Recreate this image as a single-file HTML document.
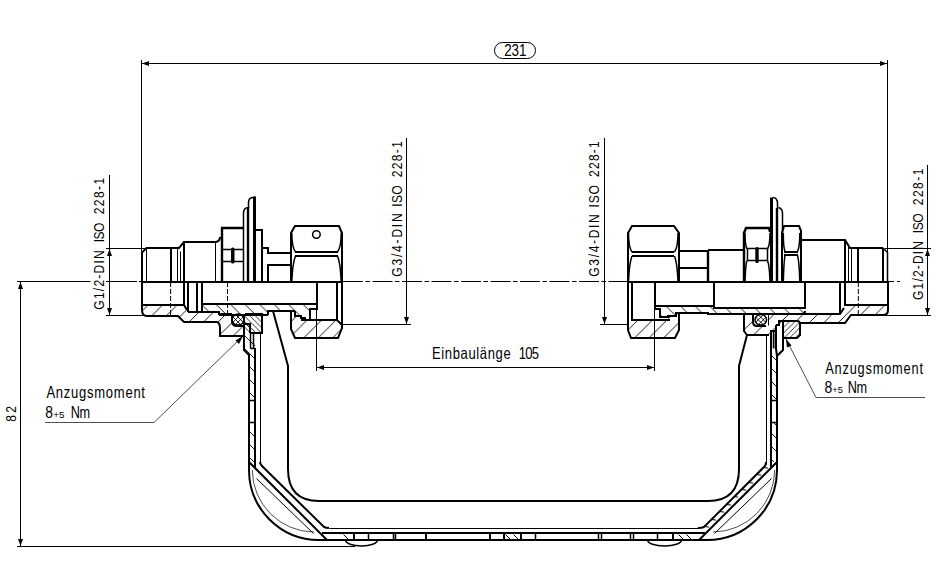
<!DOCTYPE html>
<html><head><meta charset="utf-8">
<style>
html,body{margin:0;padding:0;background:#fff;width:940px;height:580px;overflow:hidden}
svg{display:block}
text{font-family:"Liberation Sans",sans-serif;fill:#000}
.t{stroke:#000;stroke-width:1;fill:none}
.k{stroke:#000;stroke-width:2;fill:none}
.m{stroke:#000;stroke-width:1.5;fill:none}
.g{stroke:#222;stroke-width:0.8;fill:none}
.hs{stroke:#000;stroke-width:0.9;fill:none}
</style></head><body>
<svg width="940" height="580" viewBox="0 0 940 580" xmlns="http://www.w3.org/2000/svg">
<defs>
<pattern id="hf" patternUnits="userSpaceOnUse" width="14.5" height="14.5" patternTransform="translate(1,0)"><path d="M-1,15.5 L15.5,-1 M-1,1 L1,-1 M13.5,15.5 L15.5,13.5" stroke="#000" stroke-width="0.9"/></pattern>
<pattern id="hb" patternUnits="userSpaceOnUse" width="14.5" height="14.5" patternTransform="translate(2,0)"><path d="M-1,-1 L15.5,15.5 M13.5,-1 L15.5,1 M-1,13.5 L1,15.5" stroke="#000" stroke-width="0.9"/></pattern>
<pattern id="hb12" patternUnits="userSpaceOnUse" width="13" height="13"><path d="M-1,-1 L14,14 M12,-1 L14,1 M-1,12 L1,14" stroke="#000" stroke-width="0.9"/></pattern>
<pattern id="hf12" patternUnits="userSpaceOnUse" width="11.7" height="11.7"><path d="M-1,12.7 L12.7,-1 M-1,1 L1,-1 M10.7,12.7 L12.7,10.7" stroke="#000" stroke-width="0.9"/></pattern>
<pattern id="hb5" patternUnits="userSpaceOnUse" width="5.5" height="5.5"><path d="M-1,-1 L6.5,6.5 M4.5,-1 L6.5,1 M-1,4.5 L1,6.5" stroke="#000" stroke-width="0.8"/></pattern>
<pattern id="hf5" patternUnits="userSpaceOnUse" width="5.5" height="5.5"><path d="M-1,6.5 L6.5,-1 M-1,1 L1,-1 M4.5,6.5 L6.5,4.5" stroke="#000" stroke-width="0.8"/></pattern>
<pattern id="hx" patternUnits="userSpaceOnUse" width="5" height="5" patternTransform="translate(0.5,0.5)"><path d="M-1,-1 L6,6 M-1,6 L6,-1" stroke="#000" stroke-width="0.7"/></pattern>
<clipPath id="or1"><ellipse cx="238.1" cy="319.6" rx="6" ry="5.5"/></clipPath>
<clipPath id="or2"><ellipse cx="760.8" cy="319.8" rx="5.8" ry="5.3"/></clipPath>
<pattern id="hb7" patternUnits="userSpaceOnUse" width="7" height="7"><path d="M-1,-1 L8,8 M6,-1 L8,1 M-1,6 L1,8" stroke="#000" stroke-width="0.9"/></pattern>
<pattern id="hfL" patternUnits="userSpaceOnUse" width="14.5" height="14.5" patternTransform="translate(3.6,0)"><path d="M-1,15.5 L15.5,-1 M-1,1 L1,-1 M13.5,15.5 L15.5,13.5" stroke="#000" stroke-width="0.9"/></pattern>
<pattern id="hbL" patternUnits="userSpaceOnUse" width="14.5" height="14.5" patternTransform="translate(-1.3,0)"><path d="M-1,-1 L15.5,15.5 M13.5,-1 L15.5,1 M-1,13.5 L1,15.5" stroke="#000" stroke-width="0.9"/></pattern>
<pattern id="hbR" patternUnits="userSpaceOnUse" width="14.5" height="14.5" patternTransform="translate(-2.5,0)"><path d="M-1,-1 L15.5,15.5 M13.5,-1 L15.5,1 M-1,13.5 L1,15.5" stroke="#000" stroke-width="0.9"/></pattern>
</defs>

<!-- ============ DIMENSIONS ============ -->
<g id="dims">
  <!-- 231 -->
  <path class="t" d="M141.5,60 V252 M887.5,60 V252 M142,63.5 H887"/>
  <path d="M142,63.5 L149,61 L149,66 Z M887,63.5 L880,61 L880,66 Z" fill="#000"/>
  <rect class="t" x="494.5" y="42.5" width="41" height="16" rx="8" ry="8"/>

  <!-- centre line -->
  <path class="t" d="M17,281.5 H90.5 M106,281.5 H137 M139,281.5 H142"/>
  <path class="t" d="M343,281.5 H627" stroke-dasharray="20 2.5 4.5 2.5" stroke-dashoffset="0"/>
  <path class="t" d="M888,281.5 H900" stroke-dasharray="6 3"/>

  <!-- 82 -->
  <path class="t" d="M20.5,282 V546 M17,546.5 H355"/>
  <path d="M20.5,282 L18,289 L23,289 Z M20.5,546 L18,539 L23,539 Z" fill="#000"/>

  <!-- G1/2 left -->
  <path class="t" d="M109.5,175 V315 M106,248.5 H146 M106,315.5 H147"/>
  <path d="M109.5,249 L107,256 L112,256 Z M109.5,315 L107,308 L112,308 Z" fill="#000"/>

  <!-- G1/2 right -->
  <path class="t" d="M927.5,165 V315 M885,248.5 H931 M885,315.5 H931"/>
  <path d="M927.5,249 L925,256 L930,256 Z M927.5,315 L925,308 L930,308 Z" fill="#000"/>

  <!-- G3/4 left -->
  <path class="t" d="M406.5,138 V324 M342,324.5 H411"/>
  <path d="M406.5,324 L404,317 L409,317 Z" fill="#000"/>

  <!-- G3/4 right -->
  <path class="t" d="M604.5,138 V324 M600,324.5 H628"/>
  <path d="M604.5,324 L602,317 L607,317 Z" fill="#000"/>

  <!-- Einbaulaenge -->
  <path class="t" d="M316.5,282 V371 M654.5,282 V371 M317,367.5 H654"/>
  <path d="M317,367.5 L324,365 L324,370 Z M654,367.5 L647,365 L647,370 Z" fill="#000"/>

  <!-- Anzugsmoment left -->
  <path class="g" d="M45,422.5 H154 L243,336"/>
  <path d="M243,336 L235.5,340.5 L239,344 Z" fill="#000"/>

  <!-- Anzugsmoment right -->
  <path class="g" d="M925,397.5 H816 L786,339"/>
  <path d="M786,339 L787,347.5 L791.5,345.5 Z" fill="#000"/>
</g>


<!-- ============ LEFT FITTING ============ -->
<g id="leftfit">
  <!-- hatched sections -->
  <path fill="url(#hfL)" d="M142,305 V309.5 L147,315.5 H178.5 L183.5,322.5 H217 Q220.5,323 220.5,327.5 V336 H243.5 V325.6 H237 Q231.7,325 231.7,321 V314 H219 V312.7 H187.3 L186.9,310 L183.9,305 Z"/>
  <path fill="url(#hbL)" d="M202,304 H317 V308.6 H310 V319.8 H305.3 V318.4 H300.6 V315.6 H295 V310.9 H268 V314.8 H219 V312.7 H202 Z"/>
  <path fill="url(#hb5)" d="M245,314.4 H262.4 V332.8 H245 Z"/>
  <path fill="url(#hfL)" d="M291,310.9 V329.3 L295.4,338.2 H338 L341.8,327.6 V325 L337,320.3 H300.6 V315.6 H295 V310.9 Z"/>
  <path fill="url(#hb12)" d="M244.5,324.5 H250 V333 H255 V400.3 H249 V355.2 L244.5,349.7 Z M249,422.5 H255 V462 L249,462 Z"/>
  <path class="m" d="M249.5,400.5 H255.5 M249.5,422.5 H255.5"/>

  <!-- upper half (view) -->
  <path class="k" d="M142,282 V252.5 L146.5,248 H179 L184,242 H216 Q220,241,220,237"/>
  <path class="t" d="M146.5,248.5 V282.5 M177.5,248.5 V282.5 M180.5,251.5 V282.5 M215.5,241.5 V282.5"/>
  <path class="k" d="M171,248 V282 M184,242 V282"/>
  <path class="k" style="stroke-width:2.4px" d="M222,282 V228 H244"/>
  <path class="m" d="M221.5,249.5 H243.5 M221.5,261.5 H243.5"/>
  <rect x="231" y="247.5" width="3.5" height="16" rx="1.5" fill="#000"/>
  <path class="m" d="M243.5,282.5 V213.5 Q243.5,207.5,248.5,207.5"/>
  <path class="k" style="stroke-width:2.4px" d="M248,207 V282"/>
  <path class="m" d="M248.5,208.5 V202.5 Q248.5,197.5,253.5,197.5 H255.5"/>
  <path class="k" style="stroke-width:3px" d="M254.5,196.5 V282.5"/>
  <path class="k" d="M256,230 H262 V248 H268 V253 H291 M268,282 V265 H291 M262,248 V282"/>
  <!-- nut -->
  <path class="k" d="M291,282 V233 L295,226 H339 L342,233 V282"/>
  <circle cx="316.4" cy="234.5" r="3.8" class="m"/>
  <path class="k" d="M295,252 H338 M295,256 H338"/>
  <path class="m" d="M291.8,233 Q291.8,247 295.5,252 M295.5,256 Q292.5,263 291.8,282 M341.2,233 Q341.2,247 337.5,252 M337.5,256 Q340.5,263 341.2,282"/>
  <!-- axis -->
  <path class="k" d="M142,282 H342"/>

  <!-- lower half (section) -->
  <path class="k" d="M142,282 V310 Q142,316 147,316 H178 L184,322 H217 Q220,323,220,328 V336 H244"/>
  <path class="k" d="M142,305 H184 L187,310 M184,282 V305 M188,282 V312 M197,282 V312 M202,282 V312 M188,312 H219 V314 H232"/>
  <path class="t" stroke-dasharray="5 2" d="M170.6,282 V315 M227.5,282 V313"/>
  <path class="k" d="M202,304 H317 M317,282 V309 H310 V320 H305 V318 H301 V316 H295 V311"/>
  <path class="k" d="M268,315 V311 H295 M219,315 H268"/>
  <path class="k" d="M232,314 V321 Q232,326,237,326 H244"/>
  <path class="t" style="stroke-width:0.9px" clip-path="url(#or1)" d="M227.6,311.6 l16,16 M227.6,327.6 l16,-16 M232.6,311.6 l16,16 M232.6,327.6 l16,-16"/><ellipse cx="238.1" cy="319.6" rx="6" ry="5.5" class="m"/>
  <path class="k" d="M245,314 H262 V333 H250"/>
  <path class="k" d="M244,314 V350 L249,355 V470 M244,324 H250 V333"/>
  <path class="m" d="M250.5,333.5 V348.5 M253.5,333.5 V348.5 M250.5,348.5 H255.5"/>
  <path class="k" d="M255,348 V467"/>
  <path class="t" d="M260.5,333.5 V464.5"/>
  <!-- nut lower -->
  <path class="k" d="M291,311 V329 L295,338 H338 L342,328 V282 M337,282 V320 L342,325 M337,320 H301"/>
  <!-- cavity -->
  <path class="k" d="M270,311 H273 L288,366 V469 Q288,501,319,501 H708 Q739,501,739,469 V366 L747,335"/>
</g>


<!-- ============ RIGHT FITTING ============ -->
<g id="rightfit">
  <!-- hatched sections -->
  <path fill="url(#hf)" d="M627.5,320.5 V329.5 L631.3,338.4 H674.7 L679.2,329.5 V313.1 H675.9 V315.7 H668.5 V320.5 Z"/>
  <path fill="url(#hbR)" d="M655,306.2 H713.8 V307.5 H804.7 V311 Q804.7,313.5 802,313.5 H707.8 V313.1 H675.9 V315.7 H668.5 V317.2 H660.5 V308.6 H655 Z"/>
  <path fill="url(#hf)" d="M744,314 V331 L746.6,335.3 H769 V325.7 H752.6 V314 Z M769,314 H840 L844.3,308 V305.2 H887.8 V310.9 L883.6,315 H851 L844.9,323.4 H799.5 V320.9 H781.4 V325.2 H775.8 V331 L769,335.3 Z"/>
  <path fill="url(#hf5)" d="M782.7,320.6 H797 Q800,320.9 800,324.5 V335.3 L797,337.8 H782.7 Z"/>
  <path fill="url(#hb12)" d="M771,349 H775.8 L777,355 V400.3 H771 Z M771,422.5 H777 V462 H771 Z"/>
  
  <path class="m" d="M771.5,400.5 H777.5 M771.5,422.5 H777.5"/>

  <!-- upper half view -->
  <path class="k" d="M628,282 V233 L632,226 H674 L679,233 V282"/>
  <path class="k" d="M632,252 H674 M632,256 H674"/>
  <path class="m" d="M628.5,233 Q628.5,247 632,252 M632,256 Q629.2,263 628.5,282 M678,233 Q678,247 674.5,252 M674.5,256 Q677.3,263 678,282"/>
  <path class="k" d="M679,251 H708 M679,268 H708"/>
  <path class="k" style="stroke-width:2.4px" d="M708,250 V282"/>
  <path class="k" d="M708,250 H744"/>
  <!-- small hex nut -->
  <path class="k" style="stroke-width:2.4px" d="M744,282 V233 L746,228 H769 L770,232"/>
  <path class="m" d="M747.5,248.5 H767.5 M747.5,260.5 H767.5 M747.5,248.5 V260.5 M767.5,248.5 V260.5"/>
  <rect x="755.3" y="247" width="3.4" height="16" rx="1.5" fill="#000"/>
  <path class="m" d="M745,233 Q745,245 747,249 M747,260.6 Q745.5,265 745,282 M770,233 Q770,245 767.5,249 M767.5,260.6 Q769.5,265 770,282"/>
  <!-- flanges -->
  <path class="k" style="stroke-width:3px" d="M771.5,197.5 V282.5"/>
  <path class="m" d="M772.5,197.5 Q777.5,197.5,777.5,203.5 V208.5"/>
  <path class="k" style="stroke-width:2.4px" d="M777,208 V282"/>
  <path class="m" d="M778.5,207.5 Q782.5,208.5,782.5,213.5 V233.5"/>
  <!-- large hex nut -->
  <path class="k" d="M782,282 V233 L784,226 H799 L801,231 V282"/>
  <path class="k" d="M784,252 H798 M784,255 H798"/>
  <path class="m" d="M783.3,233 Q783.3,247 785,251.6 M785,255.3 Q783.8,262 783.3,282 M799.8,233 Q799.8,247 797.5,251.6 M797.5,255.3 Q799.3,262 799.8,282"/>
  <!-- body -->
  <path class="k" d="M800,240 H845 L850,248 H883 M845,240 V282 M858,248 V282 M883,248 V282"/>
  <path class="m" d="M883,248 L887.5,252.5 V282"/>
  <path class="t" d="M848.5,244.5 V282.5 M851.5,248.5 V282.5"/>
  <!-- axis -->
  <path class="k" d="M628,282 H888"/>

  <!-- lower half section -->
  <path class="k" d="M628,282 V330 L631,338 H675 L679,330 V313 M632,282 V320 H670"/>
  <path class="k" d="M655,282 V309 H660 V317 H668 V316 H676 V313 H708 V314 H802 Q805,314,805,311 M655,306 H714 M714,282 V308 H805 V282"/>
  <path class="k" d="M744,314 V331 L747,335 H769 M753,314 V322 Q753,326,757,326 H766"/>
  <path class="t" d="M768.5,314.5 V325.5"/>
  <path class="t" style="stroke-width:0.9px" clip-path="url(#or2)" d="M750.3,311.8 l16,16 M750.3,327.8 l16,-16 M755.3,311.8 l16,16 M755.3,327.8 l16,-16"/><ellipse cx="760.8" cy="319.8" rx="5.8" ry="5.3" class="m"/>
  <path class="k" d="M769,314 H840 L844,308 M840,282 V314 M845,282 V305 H888 M888,282 V310 Q888,315 883,315 H851 L845,323 H800"/>
  <path class="t" stroke-dasharray="5 2" d="M858.3,282 V315"/>
  <path class="k" d="M783,321 H797 Q800,321,800,324 V335 L797,338 H783"/>
  <path class="k" d="M783,321 V350 L777,356 V470 M776,325 H779 V321 H783 M776,325 V349 L777,356 M776,331 H771 V467"/>
  <path class="m" d="M773.5,331.5 V348.5 M775.5,331.5 V348.5"/><path class="t" d="M766.5,335.5 V464.5"/>
</g>

<!-- ============ BOWL ============ -->
<g id="bowl">
  <path class="k" d="M249,455 V470 A70,70 0 0 0 319,540 H707 A70,70 0 0 0 777,470 V455"/>
  <path class="k" d="M260,462 Q260,464,262,466 L324,527 Q326,528,329,528 M249,462 L327,540"/>
  <path class="t" d="M256.5,478.5 L313.5,533.5"/>
  <path class="g" d="M252.3,470 A62,62 0 0 0 314,532"/>
  <path class="k" d="M766,462 Q766,464,765,466 L704,527 Q702,528,698,528 M777,462 L699,540"/>
  <path class="t" d="M771.5,478.5 L714.5,533.5"/>
  <path class="g" d="M774.7,470 A62,62 0 0 1 713,532"/>
  <path class="t" d="M704.5,526.5 l4.64.6 M711.5,519.5 l4.64.6 M719.5,511.5 l4.64.6 M726.5,504.5 l4.64.6 M733.5,496.5 l4.64.6 M741.5,489.5 l4.64.6 M748.5,482.5 l4.64.6 M756.5,474.5 l4.64.6 M763.5,467.5 l4.64.6"/>
  <path class="t" d="M329.5,528.5 H698.5"/>
  <path class="k" d="M322,533 H705"/>
  <path class="k" d="M354,534 V540 M426,534 V540 M504,534 V540 M521,534 V540 M673,534 V540 M490,534 V540"/>
  <path class="m" d="M368.5,533.5 V540.5 M393.5,533.5 V540.5 M395.5,533.5 V540.5 M535.5,533.5 V540.5 M598.5,533.5 V540.5 M601.5,533.5 V540.5 M630.5,533.5 V540.5 M633.5,533.5 V540.5 M657.5,533.5 V540.5"/>
  <path class="t" d="M343.5,534.5 L349.5,540.5 M505.5,534.5 L511.5,540.5 M513.5,534.5 L519.5,540.5 M678.5,534.5 L684.5,540.5 M686.5,534.5 L692.5,540.5"/>
  <path class="m" d="M345.5,540 A16,6 0 0 0 377.5,540 M647.5,540 A17,6 0 0 0 681.5,540"/>
</g>

<g id="texts">
<text transform="translate(504.30,56.00) scale(0.78,1)" font-size="17.15" textLength="28.31" lengthAdjust="spacing">231</text>
<text transform="translate(16.00,421.76) rotate(-90) scale(0.78,1)" font-size="15.45" textLength="20.04" lengthAdjust="spacing">82</text>
<text transform="translate(104.06,309.70) rotate(-90) scale(0.78,1)" font-size="15.45" textLength="76.22" lengthAdjust="spacing">G1/2-DIN</text>
<text transform="translate(104.20,242.26) rotate(-90) scale(0.78,1)" font-size="15.45" textLength="25.30" lengthAdjust="spacing">ISO</text>
<text transform="translate(104.20,214.32) rotate(-90) scale(0.78,1)" font-size="15.45" textLength="46.77" lengthAdjust="spacing">228-1</text>
<text transform="translate(922.50,299.88) rotate(-90) scale(0.78,1)" font-size="15.45" textLength="75.35" lengthAdjust="spacing">G1/2-DIN</text>
<text transform="translate(922.85,233.14) rotate(-90) scale(0.78,1)" font-size="15.45" textLength="25.44" lengthAdjust="spacing">ISO</text>
<text transform="translate(922.85,205.20) rotate(-90) scale(0.78,1)" font-size="15.45" textLength="46.84" lengthAdjust="spacing">228-1</text>
<text transform="translate(401.88,276.64) rotate(-90) scale(0.78,1)" font-size="15.45" textLength="81.22" lengthAdjust="spacing">G3/4-DIN</text>
<text transform="translate(402.30,206.70) rotate(-90) scale(0.78,1)" font-size="15.45" textLength="27.36" lengthAdjust="spacing">ISO</text>
<text transform="translate(402.30,177.32) rotate(-90) scale(0.78,1)" font-size="15.45" textLength="46.35" lengthAdjust="spacing">228-1</text>
<text transform="translate(599.12,276.76) rotate(-90) scale(0.78,1)" font-size="15.45" textLength="80.22" lengthAdjust="spacing">G3/4-DIN</text>
<text transform="translate(599.40,207.52) rotate(-90) scale(0.78,1)" font-size="15.45" textLength="28.75" lengthAdjust="spacing">ISO</text>
<text transform="translate(599.40,176.94) rotate(-90) scale(0.78,1)" font-size="15.45" textLength="45.73" lengthAdjust="spacing">228-1</text>
<text transform="translate(431.92,358.70) scale(0.78,1)" font-size="16.72" textLength="101.07" lengthAdjust="spacing">Einbaulänge</text>
<text transform="translate(518.74,358.70) scale(0.78,1)" font-size="16.72" textLength="25.98" lengthAdjust="spacing">105</text>
<text transform="translate(46.38,398.00) scale(0.78,1)" font-size="16.7" textLength="126.44" lengthAdjust="spacing">Anzugsmoment</text>
<text transform="translate(825.18,373.70) scale(0.78,1)" font-size="16.4" textLength="125.43" lengthAdjust="spacing">Anzugsmoment</text>
<text x="45.30" y="417.50" font-size="16.28" textLength="7.70" lengthAdjust="spacingAndGlyphs">8</text>
<text x="824.60" y="393.40" font-size="16.28" textLength="7.76" lengthAdjust="spacingAndGlyphs">8</text>
<text transform="translate(70.86,417.50) scale(0.78,1)" font-size="16.28" textLength="24.79" lengthAdjust="spacing">Nm</text>
<text transform="translate(847.86,393.40) scale(0.78,1)" font-size="16.28" textLength="24.79" lengthAdjust="spacing">Nm</text>
<text x="53.30" y="417.50" font-size="9.2" textLength="11.2" lengthAdjust="spacingAndGlyphs">+5</text>
<text x="832.30" y="393.40" font-size="9.2" textLength="10.6" lengthAdjust="spacingAndGlyphs">+5</text>
</g>
</svg>
</body></html>
